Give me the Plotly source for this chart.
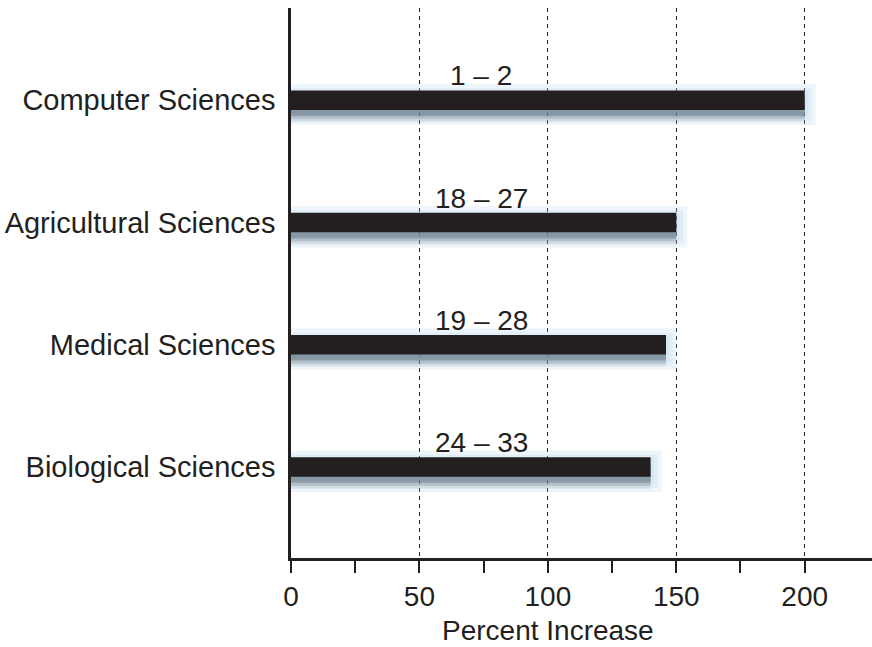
import plotly.graph_objects as go

categories = ["Computer Sciences", "Agricultural Sciences", "Medical Sciences", "Biological Sciences"]
percent_increase = [200, 150, 146, 140]
rank_labels = ["1 \u2013 2", "18 \u2013 27", "19 \u2013 28", "24 \u2013 33"]
x_ticks = [0, 50, 100, 150, 200]
x_minor_ticks = [25, 75, 125, 175]

INK = "#231f20"
FONT = "Liberation Sans, Arial, Helvetica, sans-serif"
FS = 28
BAR_W = 0.16

fig = go.Figure()

# soft bluish glow (layered to imitate blur)
for lw in [22, 14, 7]:
    fig.add_trace(go.Bar(
        y=categories, x=percent_increase, orientation="h",
        width=BAR_W, offset=-BAR_W / 2 + 0.035,
        marker=dict(color="rgba(175,210,235,0.2)",
                    line=dict(color="rgba(175,210,235,0.2)", width=lw)),
        hoverinfo="skip", showlegend=False))
# darker drop shadow under the bar
for shift, alpha in [(0.1, 0.1), (0.075, 0.18), (0.05, 0.3)]:
    fig.add_trace(go.Bar(
        y=categories, x=percent_increase, orientation="h",
        width=BAR_W, offset=-BAR_W / 2 + shift,
        marker=dict(color=f"rgba(70,78,90,{alpha})", line=dict(width=0)),
        hoverinfo="skip", showlegend=False))
# main bars
fig.add_trace(go.Bar(
    y=categories, x=percent_increase, orientation="h",
    width=BAR_W, offset=-BAR_W / 2,
    marker=dict(color=INK, line=dict(width=0)),
    showlegend=False))

label_x = (x_ticks[0] + x_ticks[-1]) / 2 * 0.74
for cat, lab in zip(categories, rank_labels):
    fig.add_annotation(x=label_x, y=cat, xref="x", yref="y", text=lab,
                       showarrow=False, yanchor="bottom", yshift=7,
                       font=dict(family=FONT, size=FS, color=INK))

fig.add_annotation(x=(x_ticks[0] + x_ticks[-1]) / 2, xref="x",
                   y=0, yref="paper", yanchor="top", yshift=-55,
                   text="Percent Increase", showarrow=False,
                   font=dict(family=FONT, size=FS, color=INK))

fig.update_layout(
    width=872, height=647,
    margin=dict(l=291, r=0, t=8, b=89),
    paper_bgcolor="white", plot_bgcolor="white",
    barmode="overlay",
    font=dict(family=FONT, size=FS, color=INK),
    xaxis=dict(range=[0, 226.2], tickvals=x_ticks, ticks="outside",
               ticklen=12, tickwidth=2, tickcolor=INK,
               showline=True, linecolor=INK, linewidth=2.5,
               showgrid=True, gridcolor=INK, gridwidth=1, griddash="4px,4px",
               zeroline=False,
               minor=dict(tickvals=x_minor_ticks, ticks="outside", ticklen=12,
                          tickwidth=2, tickcolor=INK, showgrid=False),
               tickfont=dict(family=FONT, size=FS, color=INK)),
    yaxis=dict(type="category", categoryorder="array", categoryarray=categories,
               range=[3.745, -0.755], showline=True, linecolor=INK, linewidth=2.5,
               ticks="", showgrid=False, zeroline=False, ticklabelstandoff=7,
               tickfont=dict(family=FONT, size=29, color=INK)),
)

fig.write_html("out.html",
               config={"displayModeBar": False},
               post_script="document.body.style.margin='0';document.body.style.overflow='hidden';")
